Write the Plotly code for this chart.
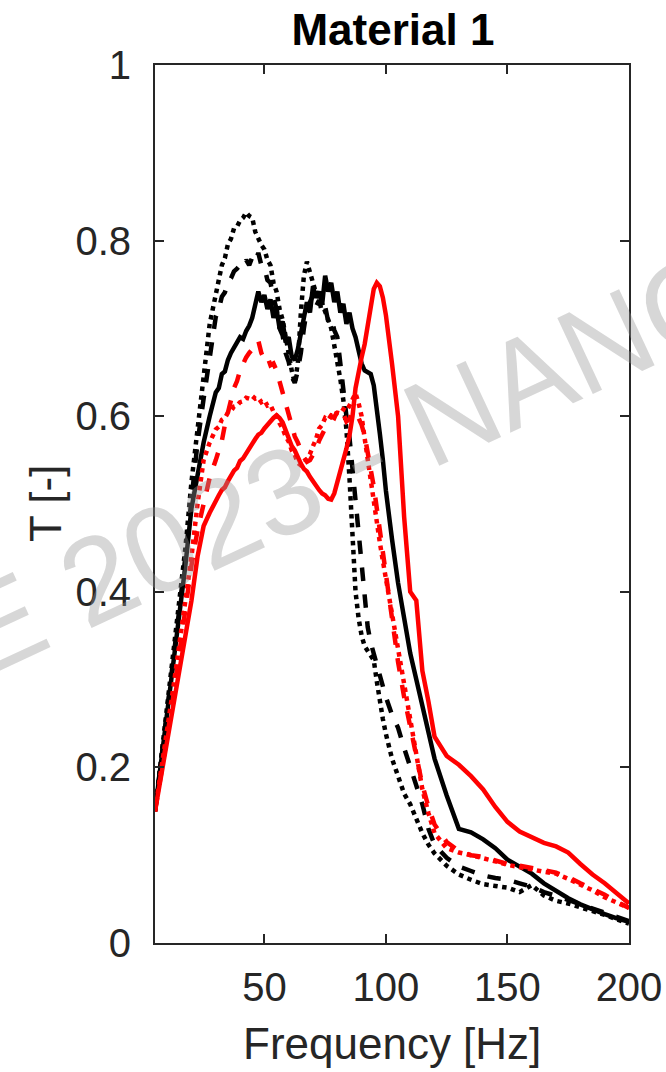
import plotly.graph_objects as go

# Frequency grid [Hz]: coarse on the rise, fine through the resonance band, coarse in the tail
freq = ([5, 7.5, 10, 12.5, 15, 17.5, 20, 22.5, 25, 27.5]
        + [30, 31.25, 32.5, 33.75, 35, 36.25, 37.5, 38.75, 40, 41.25, 42.5, 43.75, 45,
           46.25, 47.5, 48.75, 50, 51.25, 52.5, 53.75, 55, 56.25, 57.5, 58.75, 60, 61.25,
           62.5, 63.75, 65, 66.25, 67.5, 68.75, 70, 71.25, 72.5, 73.75, 75, 76.25, 77.5,
           78.75, 80, 81.25, 82.5, 83.75, 85, 86.25, 87.5, 88.75, 90, 91.25, 92.5, 93.75,
           95, 96.25, 97.5, 98.75, 100]
        + [102.5, 105, 107.5, 110, 112.5, 115, 117.5, 120]
        + [125, 130, 135, 140, 145, 150, 155, 160, 165, 170, 175, 180, 185, 190, 195, 200])

# Transmission curves T [-]
black_solid = ([0.15, 0.205, 0.26, 0.315, 0.37, 0.43, 0.495, 0.535, 0.57, 0.6]
               + [0.627, 0.632, 0.648, 0.651, 0.664, 0.672, 0.679, 0.684, 0.69, 0.688, 0.697,
                  0.703, 0.712, 0.728, 0.742, 0.73, 0.738, 0.722, 0.733, 0.712, 0.722, 0.7,
                  0.708, 0.684, 0.69, 0.668, 0.664, 0.676, 0.698, 0.712, 0.73, 0.718, 0.748,
                  0.735, 0.742, 0.727, 0.76, 0.742, 0.752, 0.73, 0.742, 0.718, 0.728, 0.705,
                  0.718, 0.7, 0.69, 0.672, 0.66, 0.652, 0.65, 0.648, 0.635, 0.61, 0.58, 0.55,
                  0.515]
               + [0.46, 0.41, 0.37, 0.33, 0.3, 0.27, 0.24, 0.21]
               + [0.168, 0.13, 0.126, 0.118, 0.108, 0.095, 0.087, 0.079, 0.068, 0.059, 0.051,
                  0.044, 0.038, 0.033, 0.028, 0.024])

black_dash = ([0.15, 0.205, 0.265, 0.32, 0.38, 0.44, 0.51, 0.57, 0.62, 0.67]
              + [0.713, 0.722, 0.736, 0.741, 0.752, 0.757, 0.765, 0.768, 0.772, 0.77, 0.778,
                 0.772, 0.781, 0.776, 0.786, 0.772, 0.77, 0.755, 0.752, 0.735, 0.722, 0.7,
                 0.692, 0.672, 0.662, 0.645, 0.638, 0.652, 0.672, 0.7, 0.722, 0.73, 0.738,
                 0.725, 0.732, 0.718, 0.725, 0.708, 0.712, 0.698, 0.69, 0.66, 0.625, 0.6,
                 0.576, 0.54, 0.5, 0.46, 0.42, 0.385, 0.36, 0.342, 0.33, 0.318, 0.302, 0.29,
                 0.28]
              + [0.26, 0.245, 0.222, 0.2, 0.18, 0.158, 0.13, 0.112]
              + [0.097, 0.087, 0.082, 0.077, 0.074, 0.072, 0.068, 0.064, 0.058, 0.054, 0.049,
                 0.044, 0.039, 0.034, 0.029, 0.025])

black_dot = ([0.15, 0.21, 0.27, 0.33, 0.39, 0.45, 0.525, 0.59, 0.645, 0.705]
             + [0.74, 0.752, 0.772, 0.78, 0.796, 0.802, 0.814, 0.816, 0.823, 0.826, 0.832,
                0.828, 0.826, 0.81, 0.802, 0.795, 0.79, 0.778, 0.772, 0.752, 0.742, 0.722,
                0.71, 0.69, 0.675, 0.652, 0.638, 0.66, 0.718, 0.76, 0.776, 0.762, 0.752,
                0.74, 0.736, 0.728, 0.72, 0.71, 0.7, 0.682, 0.662, 0.642, 0.618, 0.585, 0.53,
                0.46, 0.4, 0.37, 0.35, 0.338, 0.333, 0.328, 0.322, 0.298, 0.275, 0.255,
                0.238]
             + [0.21, 0.19, 0.17, 0.158, 0.14, 0.125, 0.112, 0.102]
             + [0.088, 0.078, 0.072, 0.067, 0.065, 0.063, 0.058, 0.066, 0.054, 0.048, 0.045,
                0.041, 0.037, 0.032, 0.027, 0.022])

red_solid = ([0.15, 0.19, 0.23, 0.275, 0.31, 0.35, 0.39, 0.44, 0.475, 0.49]
             + [0.505, 0.51, 0.516, 0.519, 0.526, 0.532, 0.538, 0.541, 0.549, 0.552, 0.558,
                0.562, 0.568, 0.574, 0.579, 0.581, 0.586, 0.59, 0.595, 0.598, 0.601, 0.598,
                0.593, 0.584, 0.576, 0.566, 0.561, 0.552, 0.546, 0.54, 0.537, 0.531, 0.526,
                0.519, 0.516, 0.512, 0.51, 0.506, 0.505, 0.512, 0.524, 0.535, 0.55, 0.563,
                0.578, 0.6, 0.632, 0.652, 0.667, 0.682, 0.702, 0.728, 0.745, 0.752, 0.748,
                0.735, 0.715]
             + [0.66, 0.6, 0.485, 0.4, 0.39, 0.31, 0.275, 0.235]
             + [0.213, 0.203, 0.19, 0.175, 0.155, 0.138, 0.127, 0.12, 0.114, 0.11, 0.103,
                0.09, 0.078, 0.068, 0.057, 0.045])

red_dash = ([0.15, 0.19, 0.235, 0.28, 0.33, 0.38, 0.43, 0.47, 0.5, 0.53]
            + [0.55, 0.562, 0.572, 0.59, 0.602, 0.618, 0.632, 0.64, 0.652, 0.66, 0.667,
               0.672, 0.676, 0.68, 0.686, 0.672, 0.665, 0.668, 0.658, 0.66, 0.652, 0.64,
               0.625, 0.612, 0.6, 0.588, 0.577, 0.57, 0.56, 0.553, 0.548, 0.55, 0.556,
               0.562, 0.572, 0.578, 0.586, 0.594, 0.6, 0.598, 0.606, 0.6, 0.603, 0.594,
               0.597, 0.605, 0.6, 0.598, 0.59, 0.578, 0.56, 0.54, 0.52, 0.495, 0.47, 0.445,
               0.42]
            + [0.37, 0.32, 0.28, 0.245, 0.21, 0.18, 0.155, 0.135]
            + [0.115, 0.105, 0.1, 0.098, 0.094, 0.09, 0.088, 0.086, 0.083, 0.08, 0.075,
               0.068, 0.062, 0.055, 0.047, 0.04])

red_dot = ([0.15, 0.195, 0.24, 0.29, 0.34, 0.39, 0.44, 0.5, 0.55, 0.57]
           + [0.585, 0.588, 0.596, 0.598, 0.604, 0.606, 0.611, 0.612, 0.616, 0.617, 0.621,
              0.62, 0.623, 0.62, 0.621, 0.616, 0.618, 0.612, 0.613, 0.605, 0.601, 0.592,
              0.586, 0.577, 0.571, 0.561, 0.556, 0.547, 0.544, 0.545, 0.551, 0.557, 0.566,
              0.574, 0.586, 0.59, 0.598, 0.596, 0.601, 0.6, 0.604, 0.603, 0.608, 0.606,
              0.612, 0.618, 0.626, 0.615, 0.6, 0.575, 0.55, 0.525, 0.5, 0.478, 0.456,
              0.435, 0.415]
           + [0.375, 0.33, 0.29, 0.25, 0.21, 0.175, 0.148, 0.125]
           + [0.108, 0.103, 0.1, 0.097, 0.093, 0.089, 0.087, 0.084, 0.081, 0.079, 0.073,
              0.067, 0.06, 0.052, 0.046, 0.04])

series = [
    (black_solid, "black", "solid"),
    (black_dash, "black", "dash"),
    (black_dot, "black", "dot"),
    (red_solid, "red", "solid"),
    (red_dash, "red", "dash"),
    (red_dot, "red", "dot"),
]

x_ticks = [50, 100, 150, 200]
y_ticks = [0, 0.2, 0.4, 0.6, 0.8, 1]
y_ticklabels = ["0", "0.2", "0.4", "0.6", "0.8", "1"]

fig = go.Figure()
for values, color, dash in series:
    fig.add_trace(go.Scatter(x=freq, y=values, mode="lines",
                             line=dict(color=color, width=4.5, dash=dash),
                             showlegend=False, hoverinfo="skip"))

axis_color = "#262626"
font_family = "Liberation Sans, Arial, sans-serif"

fig.update_layout(
    width=666, height=1072,
    margin=dict(l=155, r=37, t=65, b=129),
    paper_bgcolor="white", plot_bgcolor="white",
    font=dict(family=font_family, color=axis_color),
    title=dict(text="<b>Material 1</b>", x=0.59, xanchor="center",
               y=1 - 30 / 1072, yanchor="middle", yref="container",
               font=dict(size=44, color="black", family=font_family)),
    showlegend=False,
)

axis_common = dict(
    ticks="inside", ticklen=9, tickwidth=2, tickcolor=axis_color,
    showline=True, linewidth=2, linecolor=axis_color, mirror="ticks",
    showgrid=False, zeroline=False, automargin=False,
    tickfont=dict(size=40, color=axis_color),
)
fig.update_xaxes(range=[5, 200], tickvals=x_ticks, ticklabelstandoff=8, **axis_common)
fig.update_yaxes(range=[0, 1], tickvals=y_ticks, ticktext=y_ticklabels,
                 ticklabelstandoff=14, **axis_common)

# Axis titles
fig.add_annotation(text="Frequency [Hz]", xref="paper", yref="paper", x=0.5, y=-0.1145,
                   xanchor="center", yanchor="middle", showarrow=False,
                   font=dict(size=44, color=axis_color, family=font_family))
fig.add_annotation(text="T [-]", xref="paper", yref="paper", x=-0.232, y=0.5,
                   xanchor="center", yanchor="middle", showarrow=False, textangle=-90,
                   font=dict(size=44, color=axis_color, family=font_family))

# Diagonal watermark
fig.add_annotation(
    text="E 2023 - NANO", xref="paper", yref="paper", x=0.407, y=0.548,
    xanchor="center", yanchor="middle", showarrow=False, textangle=-25,
    font=dict(size=122, color="rgba(150,150,150,0.38)", family=font_family),
)

fig.write_html("out.html")
